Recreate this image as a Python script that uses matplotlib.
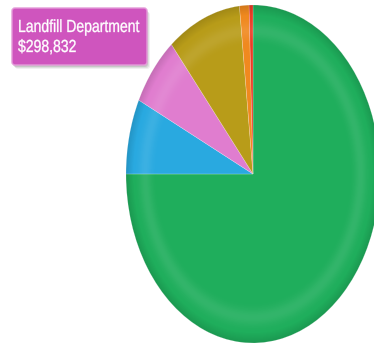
import numpy as np
import matplotlib.pyplot as plt
from matplotlib.patches import Ellipse, FancyBboxPatch, PathPatch
from matplotlib.textpath import TextPath
from matplotlib.font_manager import FontProperties
from matplotlib.transforms import Affine2D

departments = ['Public Works', 'Parks Department', 'Landfill Department',
               'Water Department', 'Library', 'Cemetery']
amounts = [3345000, 321000, 298832, 419000, 54000, 22000]
colors = ['#1fae5c', '#29a9e0', '#e07dcf', '#b89c19', '#f0891f', '#ec3c26']

W, H = 374, 343
cx, cy = 253, 174      # pie centre in pixels
rx, ry = 127, 169      # stretched radii

fig = plt.figure(figsize=(W / 100, H / 100), dpi=100)
ax = fig.add_axes([0, 0, 1, 1])

wedges, _ = ax.pie(amounts, colors=colors, startangle=90, counterclock=False,
                   radius=1, wedgeprops=dict(linewidth=0.4, edgecolor=(1, 1, 1, 0.35)))
ax.set_aspect('auto')
ax.axis('off')

# soft rim shading over the pie
n = 400
xs = np.linspace(-1, 1, n)
X, Y = np.meshgrid(xs, xs)
R = np.sqrt(X ** 2 + Y ** 2)
shade = np.zeros((n, n, 4))
light = np.exp(-((R - 0.85) / 0.05) ** 2) * 0.09
dark = np.clip((R - 0.94) / 0.06, 0, 1) * 0.12
shade[..., :3] = np.where(dark[..., None] > light[..., None], 0.0, 1.0)
shade[..., 3] = np.maximum(light, dark)
img = ax.imshow(shade, extent=(-1, 1, -1, 1), origin='lower', zorder=3,
                interpolation='bilinear', aspect='auto')
img.set_clip_path(Ellipse((0, 0), 2, 2, transform=ax.transData))
ax.set_xlim(-cx / rx, (W - cx) / rx)
ax.set_ylim((cy - H) / ry, cy / ry)

# tooltip layer in pixel coordinates
tip = fig.add_axes([0, 0, 1, 1], zorder=5)
tip.set_xlim(0, W)
tip.set_ylim(H, 0)
tip.axis('off')
tip.patch.set_visible(False)

bx0, by0, bx1, by1 = 12, 8, 147, 65
for off, a in [(4, 0.06), (3, 0.08), (2, 0.10)]:
    tip.add_patch(FancyBboxPatch((bx0 + off - 1, by0 + off), bx1 - bx0, by1 - by0,
                                 boxstyle='round,pad=0,rounding_size=3',
                                 facecolor='black', edgecolor='none', alpha=a))
tip.add_patch(FancyBboxPatch((bx0, by0), bx1 - bx0, by1 - by0,
                             boxstyle='round,pad=0,rounding_size=3',
                             facecolor='#cf55be', edgecolor='#e49ad9', linewidth=1))

fp = FontProperties(family='Liberation Sans')


def narrow_text(s, x, baseline, size=17.5, squeeze=0.80):
    path = TextPath((0, 0), s, size=size, prop=fp)
    path = Affine2D().scale(squeeze, -1).translate(x, baseline).transform_path(path)
    tip.add_patch(PathPatch(path, facecolor='white', edgecolor='white', lw=0.25))


idx = departments.index('Landfill Department')
narrow_text(departments[idx], 18, 32)
narrow_text(f'${amounts[idx]:,}', 18, 52)

fig.savefig('out.png', dpi=100, facecolor='white')
